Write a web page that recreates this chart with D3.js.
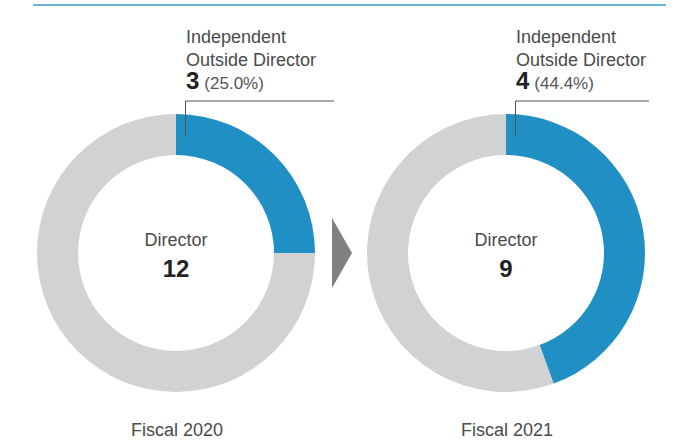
<!DOCTYPE html>
<html>
<head>
<meta charset="utf-8">
<script src="https://cdn.jsdelivr.net/npm/d3@7"></script>
<style>
  body { margin: 0; background: #fff; }
  svg text { font-family: "Liberation Sans", Arial, sans-serif; }
</style>
</head>
<body>
<div class="plot-item"></div>
<script>
// data
var years = ["Fiscal 2020", "Fiscal 2021"];
var totalDirectors = [12, 9];
var outsideDirectors = [3, 4];
var outsideShare = ["25.0%", "44.4%"];
var segmentLabel = ["Independent", "Outside Director"];
var centerLabel = "Director";

var w = 680, h = 441;
var svg = d3.select(".plot-item").append("svg")
      .attr("width", w)
      .attr("height", h);

var blue = "#1f8fc4";
var grey = "#d1d2d4";
var textCol = "#4a4a4a";

// top rule
svg.append("line")
  .attr("x1", 33).attr("x2", 666)
  .attr("y1", 5).attr("y2", 5)
  .attr("stroke", "#3a9ad0")
  .attr("stroke-width", 1.6);

var x = d3.scalePoint()
      .domain(years)
      .range([176, 506]);

var cy = 253;
var arc = d3.arc()
      .innerRadius(98)
      .outerRadius(139);
var pie = d3.pie().sort(null).value(function(d){ return d; });

years.forEach(function(year, i){
  var cx = x(year);
  var g = svg.append("g")
        .attr("transform", "translate(" + cx + "," + cy + ")");

  var parts = [outsideDirectors[i], totalDirectors[i] - outsideDirectors[i]];
  g.selectAll("path")
    .data(pie(parts))
    .enter()
      .append("path")
      .attr("d", arc)
      .attr("fill", function(d, j){ return j === 0 ? blue : grey; });

  // leader line
  svg.append("path")
    .attr("d", "M" + (cx + 9.5) + "," + (cy - 116) + "V" + (cy - 152) + "H" + (cx + (i === 0 ? 158 : 143)))
    .attr("fill", "none")
    .attr("stroke", "#555")
    .attr("stroke-width", 1);

  // segment labels
  var lx = cx + 10;
  segmentLabel.forEach(function(t, k){
    svg.append("text")
      .attr("x", lx)
      .attr("y", 43 + k * 22.5)
      .attr("font-size", 18)
      .attr("fill", textCol)
      .text(t);
  });
  var num = svg.append("text")
        .attr("x", lx)
        .attr("y", 89)
        .attr("fill", "#222");
  num.append("tspan")
    .attr("font-size", 24)
    .attr("font-weight", "bold")
    .text(outsideDirectors[i]);
  num.append("tspan")
    .attr("font-size", 17)
    .attr("fill", "#555")
    .attr("dx", 5)
    .text("(" + outsideShare[i] + ")");

  // center
  svg.append("text")
    .attr("x", cx)
    .attr("y", 246)
    .attr("text-anchor", "middle")
    .attr("font-size", 18)
    .attr("fill", textCol)
    .text(centerLabel);
  svg.append("text")
    .attr("x", cx)
    .attr("y", 277)
    .attr("text-anchor", "middle")
    .attr("font-size", 24)
    .attr("font-weight", "bold")
    .attr("fill", "#222")
    .text(totalDirectors[i]);

  // year
  svg.append("text")
    .attr("x", cx + 1)
    .attr("y", 436)
    .attr("text-anchor", "middle")
    .attr("font-size", 18)
    .attr("fill", textCol)
    .text(year);
});

// arrow between the two
var mid = (x(years[0]) + x(years[1])) / 2;
svg.append("path")
  .attr("d", "M" + (mid - 9) + "," + (cy - 35) + "L" + (mid + 11) + "," + cy + "L" + (mid - 9) + "," + (cy + 35) + "Z")
  .attr("fill", "#808080");
</script>
</body>
</html>
